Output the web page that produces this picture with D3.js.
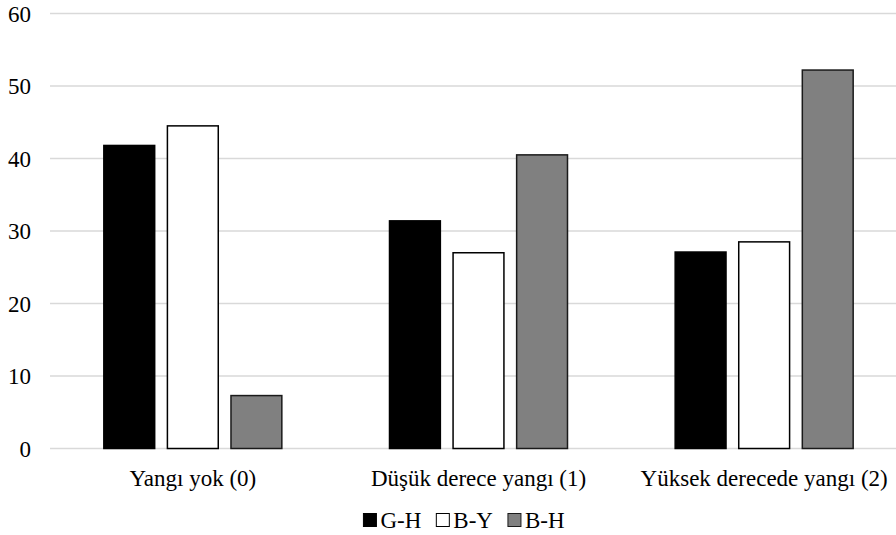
<!DOCTYPE html>
<html>
<head>
<meta charset="utf-8">
<script src="https://cdn.jsdelivr.net/npm/d3@7"></script>
<style>
  html, body { margin: 0; padding: 0; background: #fff; }
  svg { display: block; }
  svg text { font-family: "Liberation Serif", "Times New Roman", Times, serif !important; }
</style>
</head>
<body>
<svg id="chart" width="896" height="535"></svg>
<script>
// Category labels along the x axis
const categories = ["Yangı yok (0)", "Düşük derece yangı (1)", "Yüksek derecede yangı (2)"];
// Series names, shown in the legend
const seriesNames = ["G-H", "B-Y", "B-H"];
// Values per series, in category order
const gH = [41.8, 31.4, 27.1];
const bY = [44.5, 27.0, 28.5];
const bH = [7.3, 40.5, 52.2];
// Y axis tick values
const yTicks = [0, 10, 20, 30, 40, 50, 60];

const seriesValues = [gH, bY, bH];
const fills = ["#000000", "#ffffff", "#808080"];
const strokes = ["#000000", "#000000", "#1a1a1a"];

const FONT = '"Liberation Serif", "Times New Roman", Times, serif';
const fontSize = "23px";

const svg = d3.select("#chart").attr("font-family", FONT);

const x0 = d3.scaleBand().domain(categories).range([50, 907]).padding(0);
const y = d3.scaleLinear().domain([0, 60]).range([448.5, 13.5]);

const groupHalf = 89;
const x1 = d3.scaleBand().domain(seriesNames).range([-groupHalf, groupHalf]).paddingInner(0.2).paddingOuter(0);

// Horizontal gridlines
svg.append("g")
  .selectAll("line")
  .data(yTicks)
  .join("line")
  .attr("x1", 50).attr("x2", 907)
  .attr("y1", d => y(d)).attr("y2", d => y(d))
  .attr("stroke", "#d9d9d9")
  .attr("stroke-width", 1.5);

// Y axis labels
const yAxis = d3.axisLeft(y).tickValues(yTicks).tickSize(0).tickPadding(0).tickFormat(d3.format("d"));
const yg = svg.append("g").attr("transform", "translate(31,0)").call(yAxis);
yg.attr("font-family", null).attr("font-size", null);
yg.select(".domain").remove();
yg.selectAll("text")
  .style("font-family", FONT)
  .style("font-size", fontSize)
  .attr("fill", "#000")
  .attr("dy", "0.34em");

// Bars
const groups = svg.append("g")
  .selectAll("g")
  .data(categories)
  .join("g")
  .attr("transform", d => `translate(${x0(d) + x0.bandwidth() / 2},0)`);

groups.selectAll("rect")
  .data((c, ci) => seriesNames.map((s, si) => ({ s, si, v: seriesValues[si][ci] })))
  .join("rect")
  .attr("x", d => x1(d.s))
  .attr("width", x1.bandwidth())
  .attr("y", d => y(d.v))
  .attr("height", d => y(0) - y(d.v))
  .attr("fill", d => fills[d.si])
  .attr("stroke", d => strokes[d.si])
  .attr("stroke-width", 1.5);

// Category labels
const xAxis = d3.axisBottom(x0).tickSize(0).tickPadding(0);
const xg = svg.append("g").attr("transform", "translate(0,486)").call(xAxis);
xg.attr("font-family", null).attr("font-size", null);
xg.select(".domain").remove();
xg.selectAll("text")
  .style("font-family", FONT)
  .style("font-size", fontSize)
  .attr("fill", "#000")
  .attr("dy", 0)
  .attr("y", 0);

// Legend
const legend = svg.append("g");
const sq = 13;
const gap = 15;
let cursor = 0;
seriesNames.forEach((name, i) => {
  const g = legend.append("g");
  g.append("rect")
    .attr("x", cursor).attr("y", -sq / 2)
    .attr("width", sq).attr("height", sq)
    .attr("fill", fills[i])
    .attr("stroke", strokes[i])
    .attr("stroke-width", 1);
  const t = g.append("text")
    .attr("x", cursor + sq + 4)
    .attr("y", 0)
    .attr("dy", "0.34em")
    .style("font-family", FONT)
    .style("font-size", fontSize)
    .attr("fill", "#000")
    .text(name);
  cursor += sq + 4 + t.node().getComputedTextLength() + gap;
});
const legendWidth = cursor - gap;
legend.attr("transform", `translate(${464 - legendWidth / 2},520)`);
</script>
</body>
</html>
